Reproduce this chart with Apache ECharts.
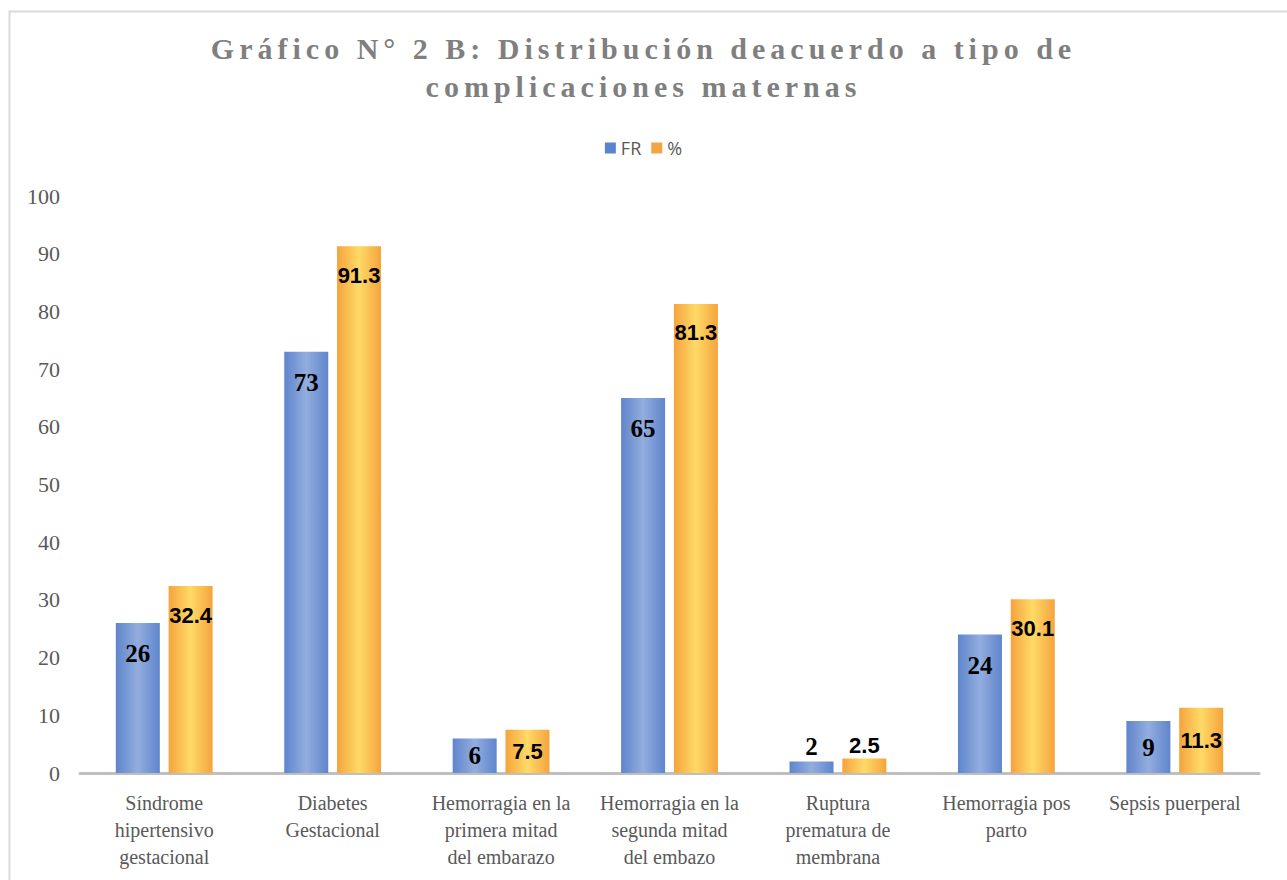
<!DOCTYPE html>
<html>
<head>
<meta charset="utf-8">
<script src="https://cdn.jsdelivr.net/npm/echarts@6/dist/echarts.min.js"></script>
<style>
  html, body { margin: 0; padding: 0; background: #fff; }
  #chart { width: 1287px; height: 880px; }
  /* Excel title uses expanded character spacing */
  #chart text[style*="30px"] { letter-spacing: 5px; }
</style>
</head>
<body>
<div id="chart"></div>
<script>
const categories = [
  'Síndrome\nhipertensivo\ngestacional',
  'Diabetes\nGestacional',
  'Hemorragia en la\nprimera mitad\ndel embarazo',
  'Hemorragia en la\nsegunda mitad\ndel embazo',
  'Ruptura\nprematura de\nmembrana',
  'Hemorragia pos\nparto',
  'Sepsis puerperal'
]
const frValues = [26, 73, 6, 65, 2, 24, 9]
const pctValues = [32.4, 91.3, 7.5, 81.3, 2.5, 30.1, 11.3]
const seriesNames = ['FR', '%']

const serif = 'Liberation Serif'
const sans = 'Liberation Sans'

// small bars get the label above or in the middle, like excel did
const labelPlace = (v) => {
  if (v < 5) return { position: 'top', distance: 2 }
  if (v < 15) return { position: 'inside' }
  return { position: 'insideTop', distance: 18 }
}

const toData = (values, labelBase) =>
  values.map((v) => ({ value: v, label: Object.assign({}, labelBase, labelPlace(v)) }))

const frLabel = {
  show: true,
  fontFamily: serif,
  fontSize: 25,
  fontWeight: 'bold',
  color: '#000'
}
const pctLabel = {
  show: true,
  fontFamily: sans,
  fontSize: 22,
  fontWeight: 'bold',
  color: '#000'
}

const barGradient = (edge, mid) => new echarts.graphic.LinearGradient(0, 0, 1, 0, [
  { offset: 0, color: edge },
  { offset: 0.5, color: mid },
  { offset: 1, color: edge }
])

const chart = echarts.init(document.getElementById('chart'), null, { renderer: 'svg' })

chart.setOption({
  backgroundColor: '#fff',
  animation: false,
  title: {
    text: 'Gráfico N° 2 B: Distribución deacuerdo a tipo de\ncomplicaciones maternas',
    left: 'center',
    top: 24,
    textStyle: {
      fontFamily: serif,
      fontSize: 30,
      fontWeight: 'bold',
      color: '#7F7F7F',
      lineHeight: 38
    }
  },
  legend: {
    top: 134,
    left: 'center',
    itemWidth: 11,
    itemHeight: 11,
    itemGap: 10,
    icon: 'rect',
    textStyle: { fontFamily: 'Open Sans', fontSize: 18, color: '#595959' },
    data: [
      { name: seriesNames[0], itemStyle: { color: '#5B84CE' } },
      { name: seriesNames[1], itemStyle: { color: '#F3A444' } }
    ]
  },
  grid: {
    left: 80,
    right: 28,
    top: 196,
    bottom: 107,
    containLabel: false
  },
  xAxis: {
    type: 'category',
    data: categories,
    axisTick: { show: false },
    axisLine: { lineStyle: { color: '#BFBFBF', width: 3 } },
    axisLabel: {
      interval: 0,
      margin: 16,
      fontFamily: serif,
      fontSize: 20,
      lineHeight: 27,
      color: '#595959'
    }
  },
  yAxis: {
    type: 'value',
    min: 0,
    max: 100,
    interval: 10,
    axisLine: { show: false },
    axisTick: { show: false },
    splitLine: { show: false },
    axisLabel: {
      margin: 20,
      fontFamily: serif,
      fontSize: 22,
      color: '#595959'
    }
  },
  series: [
    {
      name: seriesNames[0],
      type: 'bar',
      barWidth: 44,
      barGap: '20%',
      data: toData(frValues, frLabel),
      itemStyle: { color: barGradient('#5F85CC', '#93ADDE') },
      label: frLabel
    },
    {
      name: seriesNames[1],
      type: 'bar',
      barWidth: 44,
      barGap: '20%',
      data: toData(pctValues, pctLabel),
      itemStyle: { color: barGradient('#F5A33D', '#FFDA66') },
      label: pctLabel
    }
  ],
  graphic: [
    {
      type: 'rect',
      left: 7,
      top: 9,
      silent: true,
      shape: { width: 1300, height: 900 },
      style: { fill: 'none', stroke: '#D9D9D9', lineWidth: 2 }
    }
  ]
})

window.addEventListener('resize', function () {
  chart.resize()
})
</script>
</body>
</html>
